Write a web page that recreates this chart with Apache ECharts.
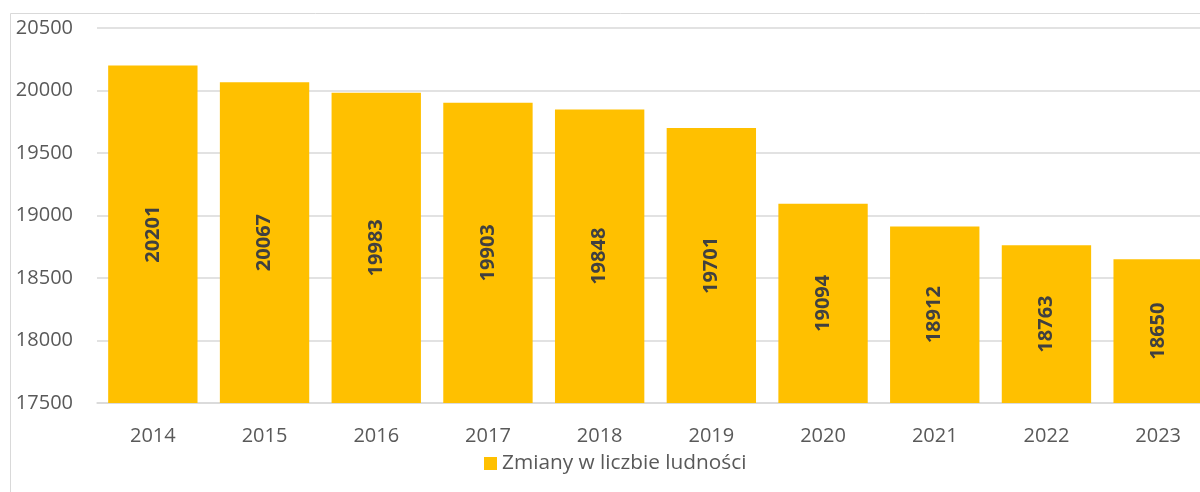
<!DOCTYPE html>
<html>
<head>
<meta charset="utf-8">
<script src="https://cdn.jsdelivr.net/npm/echarts@6/dist/echarts.min.js"></script>
<style>
  html, body { margin: 0; padding: 0; background: #fff; overflow: hidden; width: 1200px; height: 492px; }
  #chart { width: 1230px; height: 492px; }
</style>
</head>
<body>
<div id="chart"></div>
<script>
// Population by year
const years = ['2014', '2015', '2016', '2017', '2018', '2019', '2020', '2021', '2022', '2023'];
const population = [20201, 20067, 19983, 19903, 19848, 19701, 19094, 18912, 18763, 18650];
const seriesName = 'Zmiany w liczbie ludności';

const textColor = '#595959';
const fontFamily = '"Open Sans", Lato, sans-serif';

const chart = echarts.init(document.getElementById('chart'), null, { renderer: 'canvas' });
chart.setOption({
  animation: false,
  backgroundColor: '#ffffff',
  textStyle: { fontFamily: fontFamily },
  graphic: [{
    type: 'rect',
    z: -10,
    silent: true,
    shape: { x: 10.5, y: 13.5, width: 1400, height: 700 },
    style: { fill: 'none', stroke: '#d9d9d9', lineWidth: 1 }
  }],
  grid: { left: 97, right: 16, top: 28, bottom: 89, containLabel: false },
  legend: {
    data: [seriesName],
    left: 479,
    top: 448,
    icon: 'rect',
    itemWidth: 13,
    itemHeight: 13,
    itemGap: 4,
    textStyle: { color: textColor, fontSize: 20.8, fontFamily: fontFamily, padding: [0, 0, 0, 0] }
  },
  xAxis: {
    type: 'category',
    data: years,
    axisLine: { show: true, lineStyle: { color: '#d9d9d9', width: 1.5 } },
    axisTick: { show: false },
    axisLabel: { color: textColor, fontSize: 20, margin: 23, fontFamily: fontFamily }
  },
  yAxis: {
    type: 'value',
    min: 17500,
    max: 20500,
    interval: 500,
    axisLine: { show: false },
    axisTick: { show: false },
    axisLabel: {
      color: textColor, fontSize: 20, margin: 24, fontFamily: fontFamily,
      formatter: v => String(v)
    },
    splitLine: { show: true, lineStyle: { color: '#d9d9d9', width: 1.5 } }
  },
  series: [{
    name: seriesName,
    type: 'bar',
    data: population,
    barCategoryGap: '20%',
    itemStyle: { color: '#FFC000' },
    label: {
      show: true,
      position: 'inside',
      rotate: 90,
      color: '#404040',
      fontWeight: 'bold',
      fontSize: 20,
      fontFamily: fontFamily,
      formatter: p => String(p.value)
    }
  }]
});
</script>
</body>
</html>
